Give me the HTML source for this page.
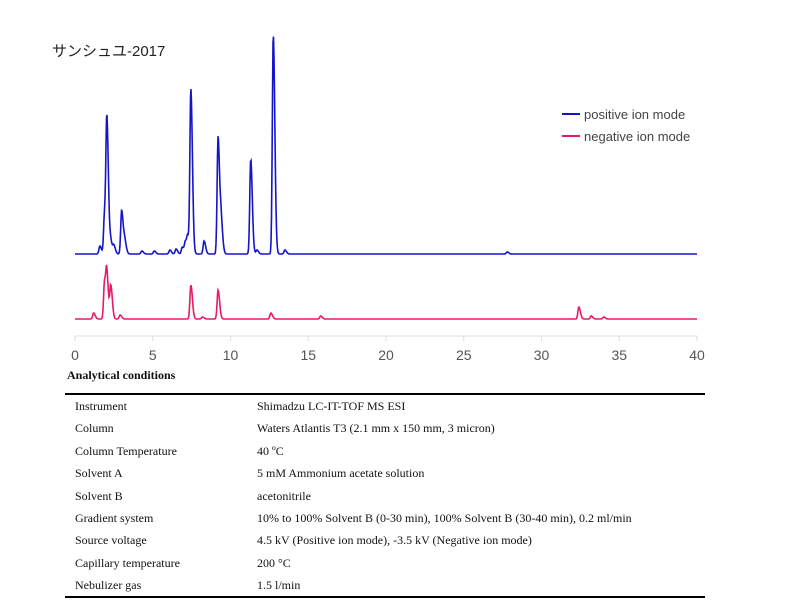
<!DOCTYPE html>
<html><head><meta charset="utf-8"><style>
body{margin:0;background:#fff;width:795px;height:600px;overflow:hidden;position:relative;font-family:"Liberation Sans","Noto Sans CJK JP",sans-serif}
.t{position:absolute;font-family:"Liberation Serif",serif;font-size:12px;color:#111}
</style></head><body>
<svg id="ch" width="795" height="370" style="position:absolute;left:0;top:0">
<text x="52" y="56" font-size="15" fill="#222" font-family="Liberation Sans, Noto Sans CJK JP, sans-serif">サンシュユ-2017</text>
<g>
<line x1="562" y1="114" x2="580" y2="114" stroke="#1414c8" stroke-width="2"/>
<text x="584" y="119" font-size="13" fill="#444">positive ion mode</text>
<line x1="562" y1="136" x2="580" y2="136" stroke="#e8186a" stroke-width="2"/>
<text x="584" y="141" font-size="13" fill="#444">negative ion mode</text>
</g>
</svg>
<div class="t" style="left:67px;top:368px;font-weight:bold">Analytical conditions</div>
<div style="position:absolute;left:65px;top:393px;width:640px;height:2px;background:#000"></div>
<div style="position:absolute;left:65px;top:596px;width:640px;height:2px;background:#000"></div>
<div id="tbl"></div>
<script>
const ticks=[0,5,10,15,20,25,30,35,40];
const posRt=[1.6,1.9,2.05,2.3,2.5,3.0,3.2,4.3,5.1,6.1,6.5,6.9,7.1,7.25,7.45,8.3,9.2,9.4,11.3,11.7,12.75,13.5,27.8];
const posH=[8,40,128,12,8,44,12,3,3,4,5,7,12,15,164,13,118,30,95,4,220,4,2];
const negRt=[1.2,1.9,2.05,2.3,2.9,7.45,8.2,9.2,12.6,15.8,32.4,33.2,34];
const negH=[6,38,40,33,4,34,2,29,6,3,12,3,2];
const svg=document.getElementById('ch');const NS='http://www.w3.org/2000/svg';
const x=v=>75+v*(697-75)/40;
function trace(rt,h,base,color,name){
 let d='';for(let px=75;px<=697;px+=0.5){const t=(px-75)*40/622;let y=0;
  for(let i=0;i<rt.length;i++){const s=t>rt[i]?0.1:0.06;y+=h[i]*Math.exp(-((t-rt[i])**2)/(2*s*s));}
  d+=(d?'L':'M')+px+' '+(base-y).toFixed(1);}
 const p=document.createElementNS(NS,'path');p.setAttribute('d',d);p.setAttribute('fill','none');p.setAttribute('stroke',color);p.setAttribute('stroke-width','1.6');
 
 
 svg.appendChild(p);}
trace(posRt,posH,254,'#1414c8','positive-ion-trace');
trace(negRt,negH,319,'#e8186a','negative-ion-trace');
const ax=document.createElementNS(NS,'line');ax.setAttribute('x1',75);ax.setAttribute('x2',697);ax.setAttribute('y1',336);ax.setAttribute('y2',336);ax.setAttribute('stroke','#ddd');


svg.appendChild(ax);
ticks.forEach(v=>{const l=document.createElementNS(NS,'line');l.setAttribute('x1',x(v));l.setAttribute('x2',x(v));l.setAttribute('y1',336);l.setAttribute('y2',341);l.setAttribute('stroke','#ddd');
 
 
 svg.appendChild(l);
 const t=document.createElementNS(NS,'text');t.setAttribute('x',x(v));t.setAttribute('y',360);t.setAttribute('text-anchor','middle');t.setAttribute('font-size','14');t.setAttribute('fill','#555');t.textContent=v;
 
 
 svg.appendChild(t);});
const rows=[["Instrument","Shimadzu LC-IT-TOF MS ESI"],["Column","Waters Atlantis T3 (2.1 mm x 150 mm, 3 micron)"],["Column Temperature","40 ºC"],["Solvent A","5 mM Ammonium acetate solution"],["Solvent B","acetonitrile"],["Gradient system","10% to 100% Solvent B (0-30 min), 100% Solvent B (30-40 min), 0.2 ml/min"],["Source voltage","4.5 kV (Positive ion mode), -3.5 kV (Negative ion mode)"],["Capillary temperature","200 °C"],["Nebulizer gas","1.5 l/min"]];
const tb=document.getElementById('tbl');
rows.forEach((r,i)=>{const top=399+i*22.4;
 const a=document.createElement('div');a.className='t';a.style.left='75px';a.style.top=top+'px';a.textContent=r[0];
 
 
 tb.appendChild(a);
 const b=document.createElement('div');b.className='t';b.style.left='257px';b.style.top=top+'px';b.textContent=r[1];
 
 
 tb.appendChild(b);});
</script>
</body></html>
